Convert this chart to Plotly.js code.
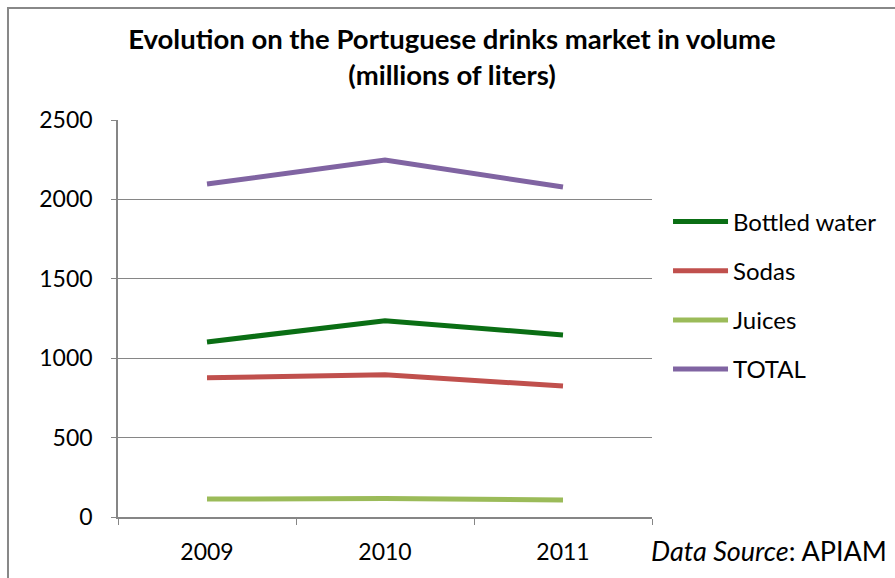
<!DOCTYPE html>
<html>
<head>
<meta charset="utf-8">
<script src="https://cdn.plot.ly/plotly-3.0.1.min.js"></script>
<style>
  body { margin: 0; background: #fff; }
  #graph { width: 895px; height: 578px; }
</style>
</head>
<body>
<div id="graph"></div>
<script>
var years = ['2009', '2010', '2011'];
var bottledWater = [1102, 1236, 1146];
var sodas = [877, 895, 825];
var juices = [113, 117, 107];
var total = [2097, 2248, 2078];

function line(name, y, color){
    return {
        x: years,
        y: y,
        mode: 'lines',
        name: name,
        legendgroup: name,
        line: {color: color, width: 5}
    };
}

var data = [
    line('Bottled water', bottledWater, '#0a6e14'),
    line('Sodas', sodas, '#c0504d'),
    line('Juices', juices, '#9bbb59'),
    line('TOTAL', total, '#8064a2')
];

var layout = {
    width: 895,
    height: 578,
    margin: {l: 118, r: 243, t: 120, b: 61},
    paper_bgcolor: '#fff',
    plot_bgcolor: '#fff',
    font: {family: 'Lato, sans-serif', size: 23, color: '#000'},
    title: {
        text: '<b>Evolution on the Portuguese drinks market in volume<br>(millions of liters)</b>',
        font: {size: 27.5},
        x: 0.505, xanchor: 'center',
        y: 0.915, yanchor: 'top'
    },
    xaxis: {
        type: 'category',
        range: [-0.5, 2.5],
        tickson: 'boundaries',
        ticks: 'outside', ticklen: 6, tickcolor: '#868686',
        showline: true, linecolor: '#868686', linewidth: 1.5,
        showgrid: false,
        ticklabelstandoff: 14,
        fixedrange: true
    },
    yaxis: {
        range: [0, 2500],
        dtick: 500,
        ticks: 'outside', ticklen: 5, tickcolor: '#868686',
        showline: true, linecolor: '#868686', linewidth: 1.5,
        gridcolor: '#868686', gridwidth: 1.2,
        zeroline: false,
        ticklabelstandoff: 14,
        fixedrange: true
    },
    showlegend: true,
    legend: {
        x: 1.030, xanchor: 'left',
        y: 0.80, yanchor: 'top',
        traceorder: 'grouped',
        tracegroupgap: 15,
        itemwidth: 55,
        font: {size: 24}
    },
    shapes: [{
        type: 'rect', xref: 'paper', yref: 'paper',
        x0: -0.206, x1: 1.47, y0: -0.3, y1: 1.282,
        line: {color: '#888', width: 2}
    }],
    annotations: [{
        xref: 'paper', yref: 'paper',
        x: 0.995, xanchor: 'left',
        y: -0.085, yanchor: 'middle',
        text: '<i>Data Source</i>: APIAM',
        showarrow: false,
        font: {size: 27}
    }]
};

Plotly.newPlot('graph', data, layout, {displayModeBar: false});
</script>
</body>
</html>
